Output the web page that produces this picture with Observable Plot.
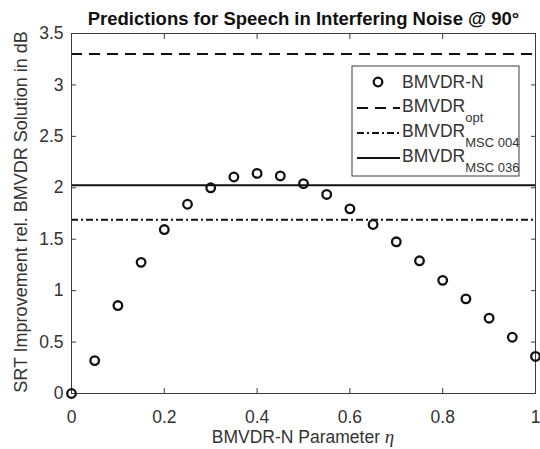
<!DOCTYPE html>
<html><head><meta charset="utf-8">
<script src="https://cdn.jsdelivr.net/npm/d3@7"></script>
<script src="https://cdn.jsdelivr.net/npm/@observablehq/plot@0.6"></script>
<style>
body{margin:0;background:#fff}
#chart{width:540px;height:449px}
</style>
</head><body><div id="chart"></div>
<script>
// ---- data ----
const eta = [0, 0.05, 0.1, 0.15, 0.2, 0.25, 0.3, 0.35, 0.4, 0.45, 0.5, 0.55, 0.6, 0.65, 0.7, 0.75, 0.8, 0.85, 0.9, 0.95, 1];
const srtImprovement = [0, 0.32, 0.855, 1.275, 1.594, 1.84, 2.0, 2.105, 2.14, 2.115, 2.04, 1.935, 1.795, 1.643, 1.475, 1.29, 1.10, 0.92, 0.732, 0.547, 0.36];
const refOpt = 3.3;
const refMsc004 = 1.69;
const refMsc036 = 2.025;
const xTicks = [0, 0.2, 0.4, 0.6, 0.8, 1];
const xTickLabels = ["0", "0.2", "0.4", "0.6", "0.8", "1"];
const yTicks = [0, 0.5, 1, 1.5, 2, 2.5, 3, 3.5];
const yTickLabels = ["0", "0.5", "1", "1.5", "2", "2.5", "3", "3.5"];
const titleText = "Predictions for Speech in Interfering Noise @ 90°";
const xLabel = "BMVDR-N Parameter ";
const xLabelSymbol = "η";
const yLabel = "SRT Improvement rel. BMVDR Solution in dB";
const legendMain = ["BMVDR-N", "BMVDR", "BMVDR", "BMVDR"];
const legendSub = ["", "opt", "MSC 004", "MSC 036"];

const points = eta.map((e, i) => ({eta: e, srt: srtImprovement[i]}));
const axisColor = "#3c3c3c";
const textColor = "#333";
const font = "'Liberation Sans', Arial, sans-serif";
const dashOpt = "11,7";
const dashMsc = "7,3,2,3";

const chart = Plot.plot({
  width: 540, height: 449,
  marginLeft: 71, marginRight: 5, marginTop: 33, marginBottom: 56,
  style: {fontFamily: font, fontSize: "17.5px", color: textColor, background: "#fff", overflow: "visible"},
  x: {domain: [0, 1]},
  y: {domain: [0, 3.5]},
  marks: [
    Plot.ruleY([refOpt], {stroke: "#111", strokeWidth: 2, strokeDasharray: dashOpt}),
    Plot.ruleY([refMsc004], {stroke: "#111", strokeWidth: 2, strokeDasharray: dashMsc}),
    Plot.ruleY([refMsc036], {stroke: "#111", strokeWidth: 2}),
    Plot.frame({stroke: axisColor, strokeWidth: 1}),
    Plot.axisX(xTicks, {anchor: "bottom", tickSize: -5, tickFormat: () => "", label: null, stroke: axisColor}),
    Plot.axisX(xTicks, {anchor: "top", tickSize: -5, tickFormat: () => "", label: null, stroke: axisColor}),
    Plot.axisX(xTicks, {anchor: "bottom", tickSize: 0, tickPadding: 17, tickFormat: d => xTickLabels[xTicks.indexOf(d)], label: null, fill: textColor}),
    Plot.axisY(yTicks, {anchor: "left", tickSize: -5, tickFormat: () => "", label: null, stroke: axisColor}),
    Plot.axisY(yTicks, {anchor: "right", tickSize: -5, tickFormat: () => "", label: null, stroke: axisColor}),
    Plot.axisY(yTicks, {anchor: "left", tickSize: 0, tickPadding: 8, tickFormat: d => yTickLabels[yTicks.indexOf(d)], label: null, fill: textColor}),
    Plot.dot(points, {x: "eta", y: "srt", r: 4.3, stroke: "#111", strokeWidth: 2.3, fill: "none", clip: false})
  ]
});
document.getElementById("chart").appendChild(chart);

const svg = d3.select(chart);
// title
svg.append("text").attr("x", 303.5).attr("y", 25).attr("text-anchor", "middle")
  .attr("font-family", font).attr("font-weight", "bold").attr("font-size", 18.5).attr("fill", "#111")
  .text(titleText);
// y label
svg.append("text").attr("transform", "translate(21,212) rotate(-90)").attr("dy", "0.36em")
  .attr("text-anchor", "middle").attr("font-family", font).attr("font-size", 18).attr("fill", textColor)
  .text(yLabel);
// x label
const xl = svg.append("text").attr("x", 303).attr("y", 443).attr("text-anchor", "middle")
  .attr("font-family", font).attr("font-size", 17.5).attr("fill", textColor);
xl.append("tspan").text(xLabel);
xl.append("tspan").attr("font-family", "'Liberation Serif', 'DejaVu Serif', serif").attr("font-style", "italic").attr("font-size", 19).text(xLabelSymbol);

// legend
const lg = svg.append("g");
lg.append("rect").attr("x", 352).attr("y", 66).attr("width", 167).attr("height", 110)
  .attr("fill", "#fff").attr("stroke", axisColor).attr("stroke-width", 1);
const rowY = [82, 108, 133, 158];
const dashes = [null, dashOpt, dashMsc, null];
rowY.forEach((y, i) => {
  if (i === 0) {
    lg.append("circle").attr("cx", 378).attr("cy", y).attr("r", 4.3).attr("fill", "none").attr("stroke", "#111").attr("stroke-width", 2.3);
  } else {
    const l = lg.append("line").attr("x1", 357).attr("x2", 400).attr("y1", y).attr("y2", y)
      .attr("stroke", "#111").attr("stroke-width", 2);
    if (dashes[i]) l.attr("stroke-dasharray", dashes[i]);
  }
  const t = lg.append("text").attr("x", 402).attr("y", i === 0 ? y + 6.3 : y + 4)
    .attr("text-anchor", "start")
    .attr("font-family", font).attr("font-size", 17.5).attr("fill", textColor);
  t.append("tspan").text(legendMain[i]);
  if (legendSub[i]) t.append("tspan").attr("dy", 10).attr("font-size", 13).text(legendSub[i]);
});
</script>
</body></html>
